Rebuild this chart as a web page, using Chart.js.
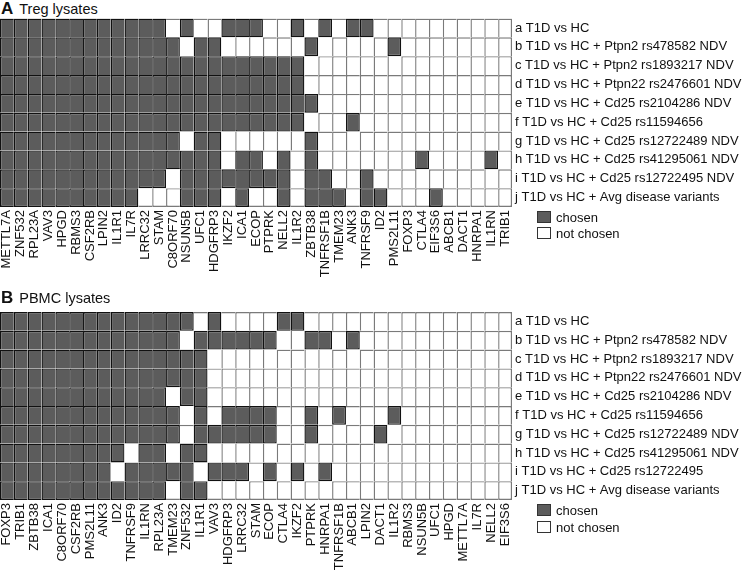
<!DOCTYPE html>
<html>
<head>
<meta charset="utf-8">
<script src="https://cdn.jsdelivr.net/npm/chart.js@4.4.1/dist/chart.umd.min.js"></script>
<style>
  html, body { margin: 0; padding: 0; background: #fff; }
  body { width: 743px; height: 573px; position: relative; overflow: hidden;
         font-family: 'Liberation Sans', Arial, sans-serif; color: #111; }
  canvas { position: absolute; left: 0; }
  .ttl { position: absolute; left: 1px; white-space: nowrap; line-height: 16px; }
  .ttl b { font-size: 17px; font-weight: bold; margin-right: 6px; }
  .ttl span { font-size: 14.5px; }
  .lg { position: absolute; left: 537px; font-size: 13px; line-height: 14px; white-space: nowrap; }
  .lg i { display: inline-block; width: 12px; height: 10px; border: 1px solid #333; vertical-align: -1px; margin-right: 5px; }
</style>
</head>
<body>
<div class="ttl" style="top:1px"><b>A</b><span>Treg lysates</span></div>
<canvas id="cA" width="743" height="296" style="top:0"></canvas>
<div class="lg" style="top:211px"><i style="background:#5c5c5c"></i>chosen</div>
<div class="lg" style="top:227px"><i style="background:#fff"></i>not chosen</div>

<div class="ttl" style="top:290px"><b>B</b><span>PBMC lysates</span></div>
<canvas id="cB" width="743" height="277" style="top:296px"></canvas>
<div class="lg" style="top:504px"><i style="background:#5c5c5c"></i>chosen</div>
<div class="lg" style="top:521px"><i style="background:#fff"></i>not chosen</div>

<script>
// ---- Data ----
const genesA = ['METTL7A','ZNF532','RPL23A','VAV3','HPGD','RBMS3','CSF2RB','LPIN2','IL1R1','IL7R','LRRC32','STAM','C8ORF70','NSUN5B','UFC1','HDGFRP3','IKZF2','ICA1','ECOP','PTPRK','NELL2','IL1R2','ZBTB38','TNFRSF1B','TMEM23','ANK3','TNFRSF9','ID2','PMS2L11','FOXP3','CTLA4','EIF3S6','ABCB1','DACT1','HNRPA1','IL1RN','TRIB1'];
const genesB = ['FOXP3','TRIB1','ZBTB38','ICA1','C8ORF70','CSF2RB','PMS2L11','ANK3','ID2','TNFRSF9','IL1RN','RPL23A','TMEM23','ZNF532','IL1R1','VAV3','HDGFRP3','LRRC32','STAM','ECOP','CTLA4','IKZF2','PTPRK','HNRPA1','TNFRSF1B','ABCB1','LPIN2','DACT1','IL1R2','RBMS3','NSUN5B','UFC1','HPGD','METTL7A','IL7R','NELL2','EIF3S6'];

const conditionsA = ['a T1D vs HC','b T1D vs HC + Ptpn2 rs478582 NDV','c T1D vs HC + Ptpn2 rs1893217 NDV','d T1D vs HC + Ptpn22 rs2476601 NDV','e T1D vs HC + Cd25 rs2104286 NDV','f T1D vs HC + Cd25 rs11594656','g T1D vs HC + Cd25 rs12722489 NDV','h T1D vs HC + Cd25 rs41295061 NDV','i T1D vs HC + Cd25 rs12722495 NDV','j T1D vs HC + Avg disease variants'];
const conditionsB = ['a T1D vs HC','b T1D vs HC + Ptpn2 rs478582 NDV','c T1D vs HC + Ptpn2 rs1893217 NDV','d T1D vs HC + Ptpn22 rs2476601 NDV','e T1D vs HC + Cd25 rs2104286 NDV','f T1D vs HC + Cd25 rs11594656','g T1D vs HC + Cd25 rs12722489 NDV','h T1D vs HC + Cd25 rs41295061 NDV','i T1D vs HC + Cd25 rs12722495','j T1D vs HC + Avg disease variants'];

// 1 = chosen, 0 = not chosen (rows a..j, columns follow gene order)
const chosenA = [
  [1,1,1,1,1,1,1,1,1,1,1,1,0,1,0,0,1,1,1,0,0,1,0,1,0,1,1,0,0,0,0,0,0,0,0,0,0],
  [1,1,1,1,1,1,1,1,1,1,1,1,1,0,1,1,0,0,0,0,0,0,1,0,0,0,0,0,1,0,0,0,0,0,0,0,0],
  [1,1,1,1,1,1,1,1,1,1,1,1,1,1,1,1,1,1,1,1,1,1,0,0,0,0,0,0,0,0,0,0,0,0,0,0,0],
  [1,1,1,1,1,1,1,1,1,1,1,1,1,1,1,1,1,1,1,1,1,1,0,0,0,0,0,0,0,0,0,0,0,0,0,0,0],
  [1,1,1,1,1,1,1,1,1,1,1,1,1,1,1,1,1,1,1,1,1,1,1,0,0,0,0,0,0,0,0,0,0,0,0,0,0],
  [1,1,1,1,1,1,1,1,1,1,1,1,1,1,1,1,1,1,1,1,1,1,0,0,0,1,0,0,0,0,0,0,0,0,0,0,0],
  [1,1,1,1,1,1,1,1,1,1,1,1,1,0,1,1,0,0,0,0,0,0,1,0,0,0,0,0,0,0,0,0,0,0,0,0,0],
  [1,1,1,1,1,1,1,1,1,1,1,1,1,1,1,1,0,1,1,0,1,0,1,0,0,0,0,0,0,0,1,0,0,0,0,1,0],
  [1,1,1,1,1,1,1,1,1,1,1,1,0,1,1,1,1,1,1,1,1,0,1,1,0,0,1,0,0,0,0,0,0,0,0,0,0],
  [1,1,1,1,1,1,1,1,1,1,0,0,0,1,1,1,0,1,0,0,1,0,1,1,1,0,1,1,0,0,0,1,0,0,0,0,0]
];
const chosenB = [
  [1,1,1,1,1,1,1,1,1,1,1,1,1,1,0,1,0,0,0,0,1,1,0,0,0,0,0,0,0,0,0,0,0,0,0,0,0],
  [1,1,1,1,1,1,1,1,1,1,1,1,1,0,1,1,1,1,1,1,0,0,1,1,0,1,0,0,0,0,0,0,0,0,0,0,0],
  [1,1,1,1,1,1,1,1,1,1,1,1,1,1,1,0,0,0,0,0,0,0,0,0,0,0,0,0,0,0,0,0,0,0,0,0,0],
  [1,1,1,1,1,1,1,1,1,1,1,1,1,1,1,0,0,0,0,0,0,0,0,0,0,0,0,0,0,0,0,0,0,0,0,0,0],
  [1,1,1,1,1,1,1,1,1,1,1,1,0,1,1,0,0,0,0,0,0,0,0,0,0,0,0,0,0,0,0,0,0,0,0,0,0],
  [1,1,1,1,1,1,1,1,1,1,1,1,1,0,1,0,1,1,1,1,0,0,1,0,1,0,0,0,1,0,0,0,0,0,0,0,0],
  [1,1,1,1,1,1,1,1,1,1,1,1,1,0,1,1,1,1,1,1,0,0,1,0,0,0,0,1,0,0,0,0,0,0,0,0,0],
  [1,1,1,1,1,1,1,1,1,0,1,1,0,1,1,0,0,0,0,0,0,0,0,0,0,0,0,0,0,0,0,0,0,0,0,0,0],
  [1,1,1,1,1,1,1,1,0,1,1,1,1,1,0,1,1,1,0,1,0,1,0,1,0,0,0,0,0,0,0,0,0,0,0,0,0],
  [1,1,1,1,1,1,1,1,1,1,1,1,0,1,1,0,0,0,0,0,0,0,0,0,0,0,0,0,0,0,0,0,0,0,0,0,0]
];

// ---- Styling ----
const GRAY = '#5c5c5c', WHITE = '#ffffff', DARK_LINE = '#111111', LIGHT_LINE = '#7a7a7a';
const LW = 1.4;
Chart.defaults.font.family = "'Liberation Sans', Arial, sans-serif";
Chart.defaults.font.size = 13;
Chart.defaults.color = '#111';

function makeHeatmap(canvasId, genes, conds, vals, padTop, xHeight) {
  const nR = conds.length, nC = genes.length;
  const isG = (r, c) => r >= 0 && r < nR && c >= 0 && c < nC && vals[r][c] === 1;
  const datasets = vals.map((row, r) => ({
    label: conds[r],
    data: row.map(() => [r, r + 1]),
    backgroundColor: row.map(v => v ? GRAY : WHITE),
    borderColor: row.map(v => v ? DARK_LINE : LIGHT_LINE),
    borderWidth: (ctx) => {
      const c = ctx.dataIndex;
      if (isG(r, c)) {
        return { top: LW, left: LW,
                 right: (c === nC - 1 || !isG(r, c + 1)) ? LW : 0,
                 bottom: (r === nR - 1 || !isG(r + 1, c)) ? LW : 0 };
      }
      return { top: (r === 0 || !isG(r - 1, c)) ? LW : 0,
               left: (c === 0 || !isG(r, c - 1)) ? LW : 0,
               right: c === nC - 1 ? LW : 0,
               bottom: r === nR - 1 ? LW : 0 };
    },
    borderSkipped: false,
    grouped: false,
    barPercentage: 1,
    categoryPercentage: 1,
    inflateAmount: 0
  }));
  return new Chart(document.getElementById(canvasId), {
    type: 'bar',
    data: { labels: genes, datasets },
    options: {
      responsive: false,
      animation: false,
      devicePixelRatio: 1,
      layout: { padding: { top: padTop, left: 0, right: 0, bottom: 0 } },
      plugins: { legend: { display: false }, tooltip: { enabled: false }, title: { display: false } },
      scales: {
        x: {
          type: 'category',
          offset: true,
          grid: { display: false, drawTicks: false },
          border: { display: false },
          ticks: { autoSkip: false, minRotation: 90, maxRotation: 90, padding: 3, color: '#111' },
          afterFit: (s) => { s.height = xHeight; }
        },
        y: {
          type: 'linear',
          position: 'right',
          reverse: true,
          min: 0, max: nR,
          grid: { display: false, drawTicks: false },
          border: { display: false },
          afterBuildTicks: (s) => { s.ticks = conds.map((_, i) => ({ value: i + 0.5 })); },
          ticks: { autoSkip: false, padding: 3, color: '#111', callback: (v, i) => conds[i] },
          afterFit: (s) => { s.width = 231; }
        }
      }
    }
  });
}

makeHeatmap('cA', genesA, conditionsA, chosenA, 18.5, 89);
makeHeatmap('cB', genesB, conditionsB, chosenB, 16, 73);
</script>
</body>
</html>
